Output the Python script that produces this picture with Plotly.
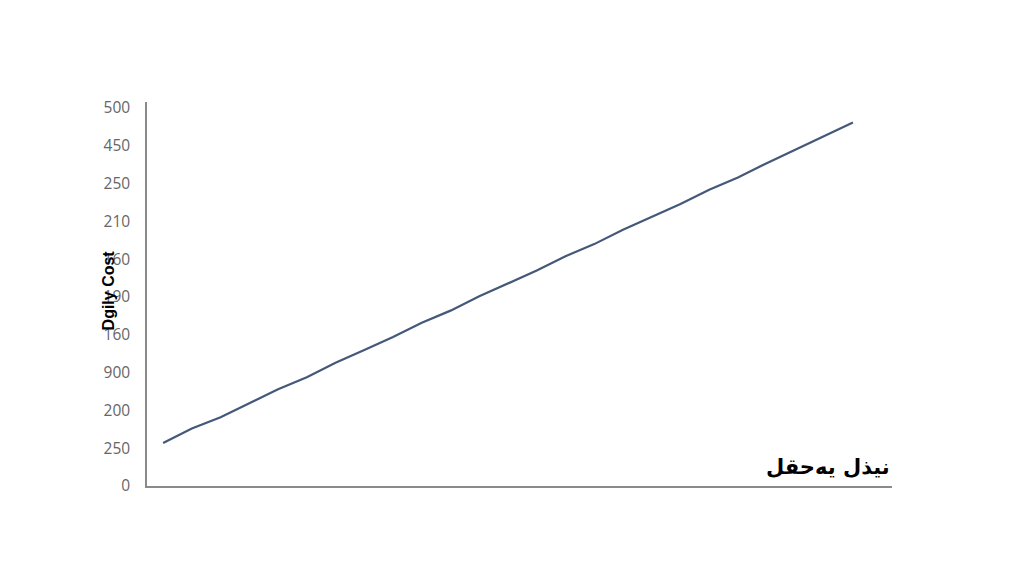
import plotly.graph_objects as go

# data
days = list(range(25))
cost = [57, 76, 91, 110, 128, 144, 163, 180, 197, 216, 232, 251, 268,
        285, 304, 320, 339, 356, 373, 392, 408, 427, 445, 463, 481]

# tick labels as printed on the axis (bottom to top)
tick_vals = [0, 50, 100, 150, 200, 250, 300, 350, 400, 450, 500]
tick_text = ["0", "250", "200", "900", "160", "190", "160", "210", "250", "450", "500"]

y_title = "Dgily Cost"
x_title = "نيذل يەحقل"

fig = go.Figure()
fig.add_trace(go.Scatter(x=days, y=cost, mode="lines",
                         line=dict(color="#44597a", width=2.2),
                         showlegend=False))

# page has an 8px body margin, so margins are shifted by that
fig.update_layout(
    width=1024, height=585,
    paper_bgcolor="white", plot_bgcolor="white",
    margin=dict(l=139, r=140, t=94, b=107),
    font=dict(family="Open Sans, DejaVu Sans, sans-serif"),
)
fig.update_xaxes(range=[-0.56, 25.36], showgrid=False, zeroline=False,
                 showticklabels=False, ticks="",
                 showline=True, linecolor="#8a8a8a", linewidth=1.5)
fig.update_yaxes(range=[0, 508], showgrid=False, zeroline=False,
                 tickvals=tick_vals, ticktext=tick_text, ticks="",
                 ticklabelstandoff=12,
                 tickfont=dict(size=15.5, color="#666666"),
                 showline=True, linecolor="#8a8a8a", linewidth=1.5)

# y title sits on top of the tick labels
fig.add_annotation(text="<b>" + y_title + "</b>", textangle=-90,
                   xref="paper", yref="paper", x=-0.052, y=0.51,
                   xanchor="center", yanchor="middle", showarrow=False,
                   font=dict(size=16, color="black", family="Liberation Sans"))
# x title at the right end, above the axis line
fig.add_annotation(text="<b>" + x_title + "</b>",
                   xref="paper", yref="paper", x=1.0, y=0.05,
                   xanchor="right", yanchor="middle", showarrow=False,
                   font=dict(size=21, color="black", family="DejaVu Sans"))

fig.write_html("out.html")
